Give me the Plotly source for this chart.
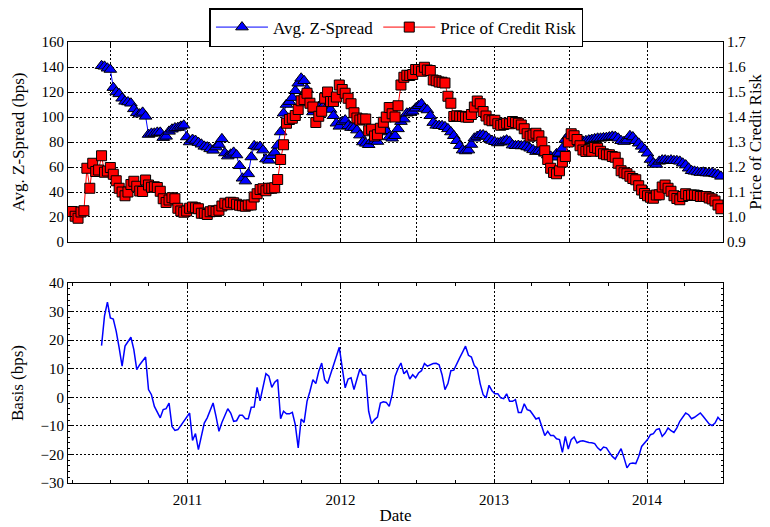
import pandas as pd
import plotly.graph_objects as go

# ---------------- data ----------------
basis_start = "2010-06-10"
price_start = "2010-03-25"

z_spread = [141, 140.5, 139, 138, 123.5, 120, 118.5, 115, 112.5, 112,
            111, 106.5, 103.3, 102.3, 103.7, 100.5, 86, 86.9, 87, 87.7,
            87.7, 83.5, 84.5, 88.5, 90.2, 91.2, 91.5, 92.5, 93.4, 84,
            80, 82, 81.2, 79.5, 78.2, 76.5, 75.9, 74.5, 73.3, 75.9,
            78, 82.5, 71.2, 68.7, 70.2, 71.7, 69.6, 61, 51, 48.7,
            54.5, 68, 77, 75.9, 76.4, 73.5, 66.3, 65.3, 69, 71.7,
            77.3, 88, 103, 110,
            112.3, 115.5, 121, 127, 131, 129, 122, 112, 104, 106,
            108.3, 110.5, 110, 108.8, 106, 101, 95, 92.5, 96.3, 97.5,
            93, 91.5, 91.5, 89.5, 85.5, 80, 78.9, 77.8, 80.8, 80.8,
            80.4, 88, 93, 89, 84, 83, 85, 90.5, 96.3, 98.3,
            103, 103.5, 104.5, 107, 109, 110.5, 106.8, 105.6, 101, 95.5,
            93.3, 93.1, 93, 92.2, 90.5, 88, 85, 81, 77, 73.5,
            72.8, 73.5, 78, 83, 84.4, 85.6, 85.6, 84.6, 82.5, 81.2,
            80.2, 79.2, 79.8, 80.8, 81.5, 80.5,
            77.5, 77, 77.2, 76.8, 77, 76, 75, 73.7, 72.3, 73,
            72.5, 71, 69.5, 68.5, 67.8, 70.5, 71, 75, 82, 85,
            82.5, 80, 79, 80, 80.5, 81, 81.5, 82, 82.5, 83,
            83, 83.3, 83.5, 84, 84.5, 84.3, 83, 81, 80.3, 81.5,
            85, 84, 81, 79, 76.5, 74, 71, 66, 63, 62,
            64.5, 65.5, 65.5, 65, 65.5, 65, 65, 64.5, 63, 61.5,
            59, 57, 56.5, 56, 55.5, 55.8, 55.2, 55, 55.3, 54.5,
            54, 52.5]

price_credit_risk = [
    1.022, 1.022, 1.003, 0.995, 1.020, 1.025, 1.195, 1.115, 1.215, 1.182,
    1.188, 1.245, 1.179, 1.184, 1.198, 1.171, 1.145, 1.115, 1.100, 1.085,
    1.100, 1.130, 1.143, 1.123, 1.104, 1.102, 1.148, 1.128, 1.119, 1.121,
    1.118, 1.103, 1.073, 1.058, 1.068, 1.077, 1.073, 1.035, 1.024, 1.019,
    1.024, 1.035, 1.040, 1.037, 1.033, 1.015, 1.015, 1.010, 1.021, 1.025,
    1.022, 1.027, 1.044, 1.055, 1.049, 1.059, 1.057, 1.051, 1.047, 1.045,
    1.043, 1.048, 1.048, 1.080, 1.093, 1.110, 1.113, 1.105, 1.115, 1.115,
    1.117, 1.150, 1.230, 1.289, 1.375, 1.390, 1.395, 1.406, 1.430, 1.465,
    1.470, 1.495, 1.455, 1.440, 1.378, 1.403, 1.423, 1.475, 1.500, 1.462,
    1.462, 1.480, 1.528, 1.510, 1.495, 1.475, 1.453, 1.417, 1.396, 1.388,
    1.392, 1.392, 1.345, 1.351, 1.324, 1.329, 1.355, 1.379, 1.400, 1.438,
    1.413, 1.400, 1.445, 1.528, 1.559, 1.567, 1.566, 1.570, 1.590, 1.590,
    1.583, 1.599, 1.588, 1.586, 1.548, 1.545, 1.540, 1.539, 1.536, 1.483,
    1.455, 1.402, 1.405, 1.403, 1.402, 1.400, 1.399, 1.410, 1.440, 1.464,
    1.453, 1.422, 1.404, 1.389, 1.385, 1.387, 1.373, 1.367, 1.370, 1.375,
    1.373, 1.382, 1.378, 1.375, 1.368, 1.353, 1.333, 1.323, 1.328, 1.335,
    1.325, 1.300, 1.265, 1.230, 1.195, 1.178, 1.173, 1.185, 1.220, 1.242,
    1.300, 1.333, 1.325, 1.310, 1.285, 1.268, 1.262, 1.268, 1.263, 1.278,
    1.275, 1.263, 1.253, 1.249, 1.249, 1.242, 1.239, 1.215, 1.185, 1.177,
    1.173, 1.163, 1.154, 1.149, 1.125, 1.108, 1.094, 1.085, 1.079, 1.075,
    1.088, 1.089, 1.120, 1.128, 1.115, 1.103, 1.085, 1.074, 1.069, 1.082,
    1.093, 1.086, 1.088, 1.088, 1.086, 1.082, 1.082, 1.082, 1.076, 1.072,
    1.064, 1.048, 1.033]

basis = [18.1, 28.4, 33.3, 27.8, 27.4, 23.1, 17.3, 10.9, 17.9, 19.6,
         21.0, 16.7, 9.7, 11.4, 12.6, 14.1, 2.7, 0.9, -3.2, -5.5,
         -7.2, -4.3, -4.0, -2.0, -10.2, -11.6, -11.3, -9.9, -8.4, -6.7,
         -5.5, -15.1, -12.7, -18.3, -13.7, -9.0, -7.2, -4.9, -2.0, -6.7,
         -11.9, -8.8, -6.7, -4.0, -5.5, -8.4, -8.2, -6.3, -6.3, -7.5,
         -7.5, -3.5, -3.4, 3.5, -1.2, 3.5, 8.3, 7.4, 3.5, 5.3,
         6.2, -7.5, -4.9, -5.8, -5.8, -5.3, -9.6,
         -17.7, -7.6, -8.8, -1.4, 2.1, 6.2, 4.8, 9.1, 12.0, 6.2,
         4.8, 7.9, 10.9, 14.4, 17.5, 10.3, 3.3, 6.4, 6.8, 2.7,
         6.2, 9.9, 7.9, 7.7, -4.9, -9.2, -7.8, -6.9, -2.0, -1.6,
         -1.8, -3.2, 0.9, 7.4, 10.0, 12.0, 8.2, 9.3, 6.4, 7.9,
         6.8, 8.5, 9.3, 11.8, 10.9, 11.4, 11.8, 11.9, 11.4, 7.9,
         2.7, 4.8, 9.3, 9.5, 11.4, 13.8, 15.8, 17.9, 14.7, 14.1,
         11.1, 10.0, 4.7, 0.9, -0.2, 4.2, 2.3, 1.2, 1.2, -0.2,
         -0.5, 1.2,
         -1.4, -1.4, -0.8, -5.3, -5.3, -2.3, -4.3, -4.7, -6.1, -7.6,
         -7.2, -10.7, -13.4, -11.9, -13.4, -13.4, -14.5, -14.8, -19.3, -13.7,
         -18.1, -14.8, -13.9, -16.0, -15.4, -15.2, -15.6, -15.8, -15.9, -16.2,
         -17.7, -18.6, -17.4, -17.7, -19.3, -20.7, -21.6, -19.5, -18.0, -21.2,
         -24.7, -23.2, -23.0, -23.2, -20.7, -17.2, -16.0, -14.8, -13.1, -12.7,
         -11.3, -11.0, -13.7, -12.5, -10.7, -11.7, -12.3, -10.7, -8.4, -7.0,
         -5.5, -6.1, -7.5, -7.0, -6.4, -5.5, -6.7, -8.2, -9.3, -9.9,
         -9.0, -7.0, -8.2]

z_dates = pd.date_range(basis_start, periods=len(z_spread), freq="7D")
basis_dates = pd.date_range(basis_start, periods=len(basis), freq="7D")
price_dates = pd.date_range(price_start, periods=len(price_credit_risk), freq="7D")

x_range = ["2010-03-22", "2014-07-01"]

# ---------------- figure ----------------
FONT = "Liberation Serif"
TICK = 15
TITLE = 17
fig = go.Figure()

fig.add_trace(go.Scatter(
    x=z_dates, y=z_spread, name="Avg. Z-Spread", mode="lines+markers",
    line=dict(color="#0000ff", width=1),
    marker=dict(symbol="triangle-up", size=11, color="#0000ff",
                line=dict(color="black", width=1)),
    xaxis="x", yaxis="y"))

fig.add_trace(go.Scatter(
    x=price_dates, y=price_credit_risk, name="Price of Credit Risk",
    mode="lines+markers",
    line=dict(color="#ff0000", width=1),
    marker=dict(symbol="square", size=10, color="#ff0000",
                line=dict(color="black", width=1)),
    xaxis="x", yaxis="y2"))

fig.add_trace(go.Scatter(
    x=basis_dates, y=basis, name="Basis", mode="lines", showlegend=False,
    line=dict(color="#0000ff", width=1.5),
    xaxis="x2", yaxis="y3"))

line_common = dict(showline=True, linecolor="black", linewidth=1,
                   zeroline=False, ticks="inside", tickcolor="black",
                   automargin=False)
tickfont = dict(family=FONT, size=TICK, color="black")
grid = dict(showgrid=True, gridcolor="black", griddash="1.5px,2.5px", gridwidth=1)

fig.update_layout(
    width=770, height=527,
    margin=dict(l=60, r=55, t=34, b=52, autoexpand=False),
    paper_bgcolor="white", plot_bgcolor="white",
    font=dict(family=FONT, size=TICK, color="black"),
    legend=dict(orientation="h", x=0.5015, xanchor="center", y=1.077, yanchor="top",
                bordercolor="black", borderwidth=1.5, bgcolor="white",
                font=dict(family=FONT, size=TITLE), itemwidth=52,
                tracegroupgap=0),
    xaxis=dict(domain=[0, 1], anchor="y", range=x_range, type="date",
               tick0="2010-07-01", dtick="M6", showticklabels=False,
               mirror="ticks", ticklen=4, **grid, **line_common),
    yaxis=dict(domain=[0.5465, 1], anchor="x", range=[0, 160], dtick=20,
               mirror=True, ticklen=4, tickfont=tickfont,
               title=dict(text="Avg. Z-Spread (bps)", standoff=12,
                          font=dict(family=FONT, size=TITLE)),
               **grid, **line_common),
    yaxis2=dict(overlaying="y", side="right", anchor="x", range=[0.9, 1.7],
                dtick=0.1, tickformat=".1f", ticklen=4, showgrid=False,
                tickfont=tickfont,
                title=dict(text="Price of Credit Risk", standoff=3,
                           font=dict(family=FONT, size=TITLE)),
                **line_common),
    xaxis2=dict(domain=[0, 1], anchor="y3", range=x_range, type="date",
                tick0="2011-01-01", dtick="M12", tickformat="%Y",
                mirror="ticks", ticklen=4, tickfont=tickfont,
                ticklabelstandoff=3,
                minor=dict(tick0="2010-01-01", dtick="M3", ticks="inside",
                           ticklen=3, tickcolor="black", showgrid=False),
                title=dict(text="Date", standoff=2,
                           font=dict(family=FONT, size=TITLE)),
                **grid, **line_common),
    yaxis3=dict(domain=[0, 0.4535], anchor="x2", range=[-30, 40], dtick=10,
                mirror="ticks", ticklen=4, tickfont=tickfont,
                minor=dict(dtick=2, ticks="inside", ticklen=2,
                           tickcolor="black", showgrid=False),
                title=dict(text="Basis (bps)", standoff=12,
                           font=dict(family=FONT, size=TITLE)),
                **grid, **line_common),
)

fig.write_html("out.html")
